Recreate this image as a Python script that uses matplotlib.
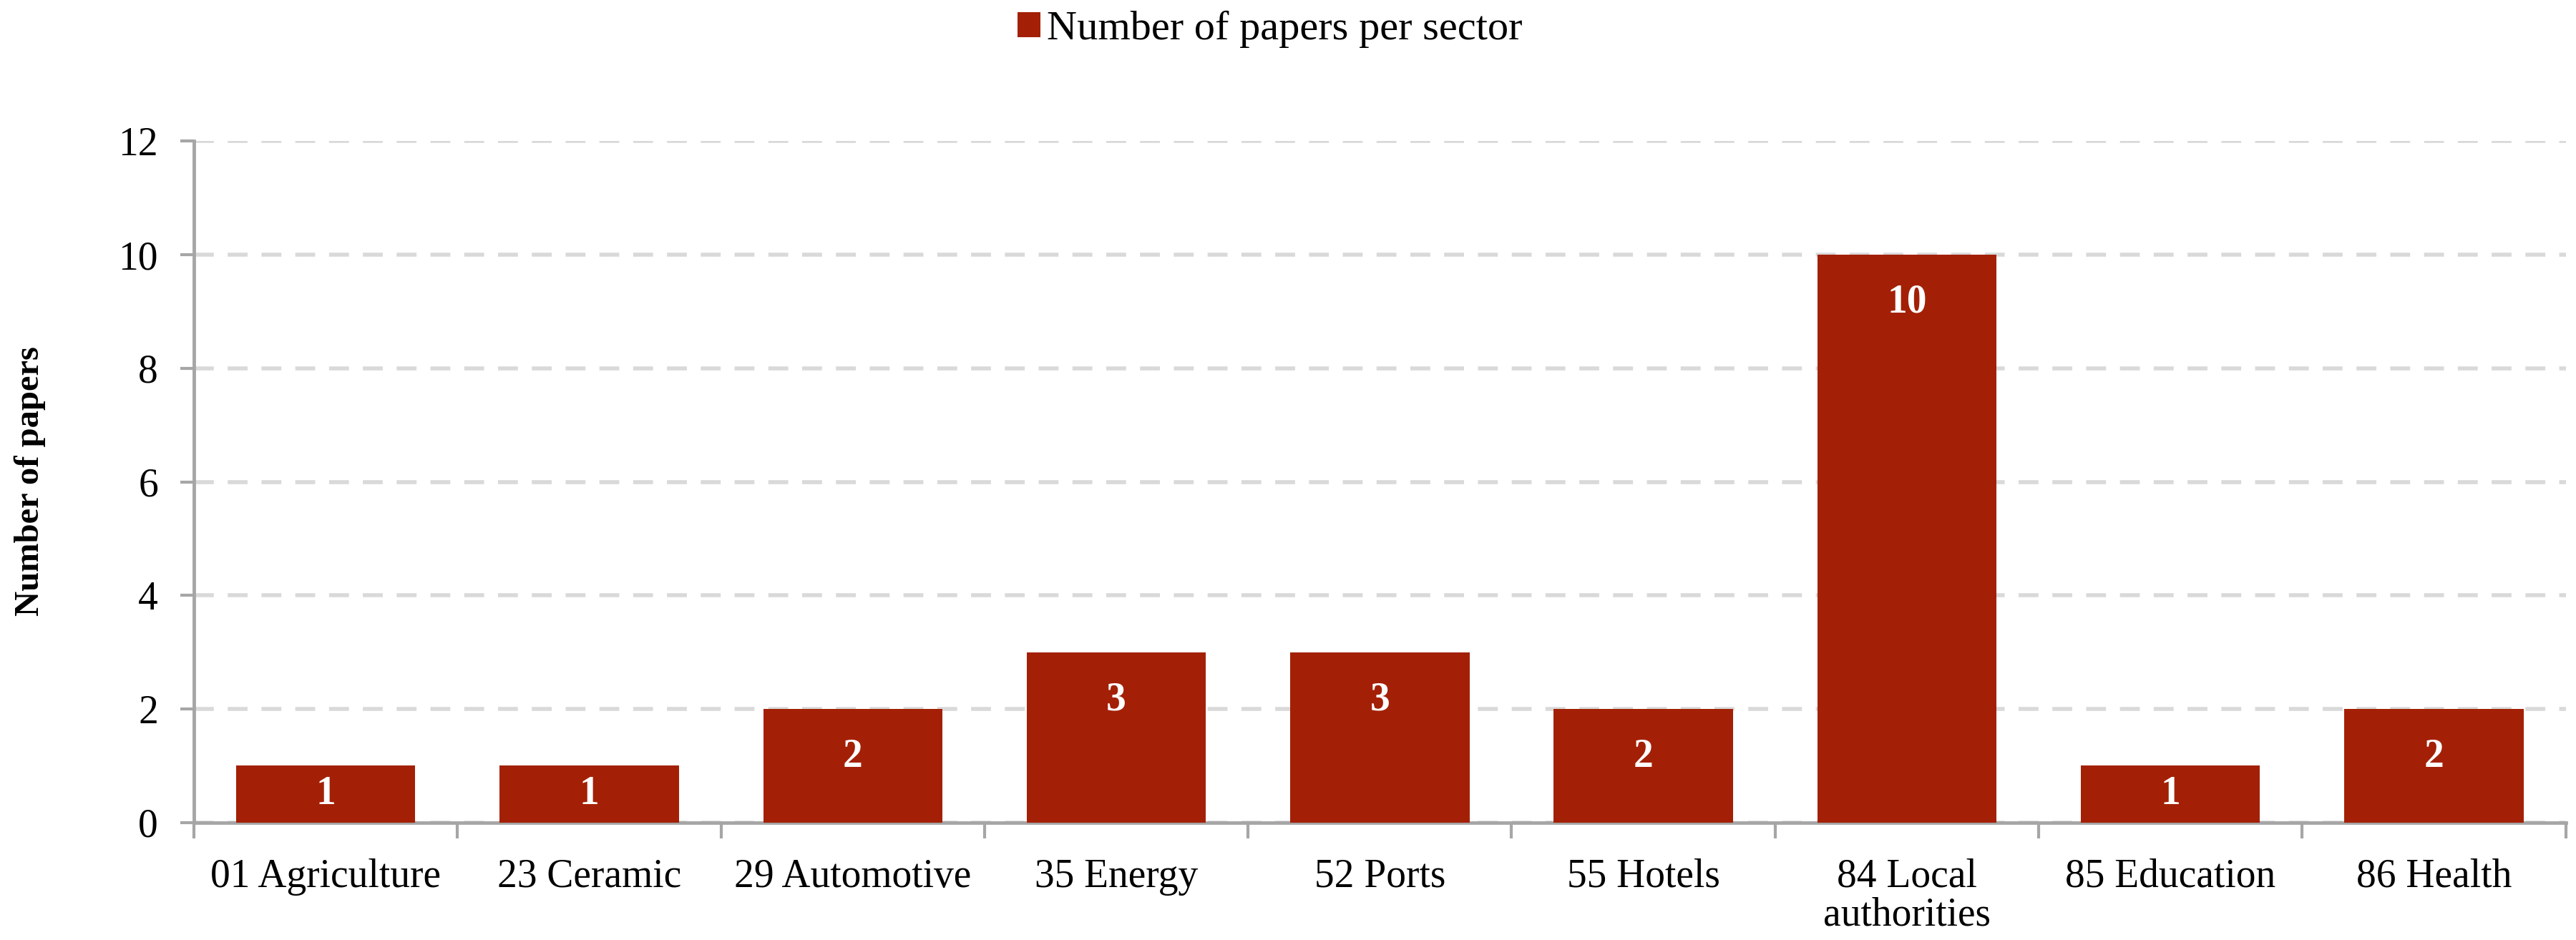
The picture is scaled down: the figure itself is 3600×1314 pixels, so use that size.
import numpy as np
import matplotlib
matplotlib.use("Agg")
import matplotlib.pyplot as plt
from matplotlib.patches import Patch

# Data
sectors = ["01 Agriculture", "23 Ceramic", "29 Automotive", "35 Energy", "52 Ports",
           "55 Hotels", "84 Local\nauthorities", "85 Education", "86 Health"]
papers = [1, 1, 2, 3, 3, 2, 10, 1, 2]
y_ticks = [0, 2, 4, 6, 8, 10, 12]

BAR_COLOR = "#A32006"
AXIS_COLOR = "#a6a6a6"
FONT = "Liberation Serif"
FS = 40

plt.rcParams["font.family"] = [FONT, "DejaVu Serif"]

fig = plt.figure(figsize=(36, 13.14), dpi=100)
ax = fig.add_axes([0.0753, 0.125, 0.9207, 0.7247])

x = np.arange(len(sectors))
ax.bar(x, papers, width=0.68, color=BAR_COLOR, zorder=3)

# value labels inside the bars (near the top, centred for short bars)
for xi, v in zip(x, papers):
    ypos = max(v / 2, v - 0.84)
    ax.text(xi, ypos, str(v), ha="center", va="center", color="white",
            fontsize=FS, fontweight="bold", zorder=4)

ax.set_xlim(-0.5, len(sectors) - 0.5)
ax.set_ylim(0, 12)
ax.set_yticks(y_ticks)
ax.set_yticklabels([str(t) for t in y_ticks], fontsize=FS)

ax.set_xticks(x)
ax.set_xticklabels(sectors, fontsize=FS, linespacing=1.05)
ax.set_xticks(np.arange(-0.5, len(sectors)), minor=True)
ax.tick_params(axis="x", which="major", length=0, pad=36)
ax.tick_params(axis="x", which="minor", length=16, width=3, color=AXIS_COLOR, direction="out")
ax.tick_params(axis="y", length=14, width=3, color=AXIS_COLOR, pad=22)

ax.yaxis.grid(True, color="#d9d9d9", linewidth=4, linestyle=(0, (5, 3.5)), zorder=0)
ax.set_axisbelow(True)

for side in ["top", "right"]:
    ax.spines[side].set_visible(False)
for side in ["left", "bottom"]:
    ax.spines[side].set_color(AXIS_COLOR)
    ax.spines[side].set_linewidth(3.5)

fig.text(0.0115, 0.488, "Number of papers", rotation=90, ha="center", va="center",
         fontsize=35, fontweight="bold")

handle = Patch(facecolor=BAR_COLOR, edgecolor="none")
fig.legend([handle], ["Number of papers per sector"], loc="center",
           bbox_to_anchor=(0.493, 0.969), frameon=False, fontsize=42,
           handlelength=0.55, handleheight=0.55, handletextpad=0.15)

fig.savefig("out.png", dpi=100)
